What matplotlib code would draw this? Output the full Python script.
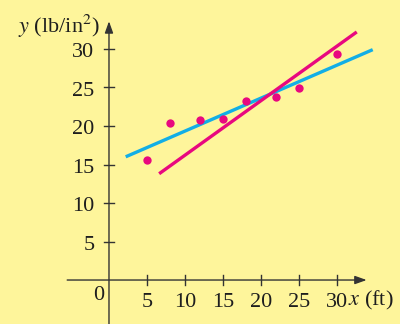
import matplotlib.pyplot as plt

plt.rcParams['font.family'] = ['Liberation Serif', 'DejaVu Serif']
plt.rcParams['mathtext.fontset'] = 'stix'

# data
x_pts = [5, 8, 12, 15, 18, 22, 25, 30]
y_pts = [15.6, 20.4, 20.8, 20.9, 23.2, 23.8, 24.9, 29.3]

# two fitted lines: (x start, x end), slope, intercept
cyan_x = [2.2, 34.7]
cyan_slope, cyan_icpt = 0.428, 15.06
mag_x = [6.6, 32.6]
mag_slope, mag_icpt = 0.708, 9.13

xticks = [5, 10, 15, 20, 25, 30]
yticks = [5, 10, 15, 20, 25, 30]

bg = '#fef59b'
cyan = '#12aee6'
magenta = '#e8087f'
axcol = '#333333'
txtcol = '#1e1e1e'

fig = plt.figure(figsize=(4.0, 3.24), dpi=100, facecolor=bg)
ax = fig.add_axes([0, 0, 1, 1])
ax.set_facecolor(bg)
ax.set_xlim(-14.34, 38.29)
ax.set_ylim(-5.71, 36.36)
ax.axis('off')

# axes with arrows
ax.annotate('', xy=(33.9, 0), xytext=(-5.5, 0),
            arrowprops=dict(arrowstyle='-|>,head_length=0.7,head_width=0.25',
                            color=axcol, lw=1.0, shrinkA=0, shrinkB=0))
ax.annotate('', xy=(0, 33.6), xytext=(0, -5.8),
            arrowprops=dict(arrowstyle='-|>,head_length=0.7,head_width=0.25',
                            color=axcol, lw=1.0, shrinkA=0, shrinkB=0))

for t in xticks:
    ax.plot([t, t], [-0.65, 0.65], color=axcol, lw=1.0)
    ax.text(t, -3.5, str(t), ha='center', va='baseline', fontsize=16, color=txtcol)
for t in yticks:
    ax.plot([-0.66, 0.66], [t, t], color=axcol, lw=1.0)
    ax.text(-1.9, t - 1.1, str(t), ha='right', va='baseline', fontsize=16, color=txtcol)
ax.text(-1.3, -2.6, '0', ha='center', va='baseline', fontsize=16, color=txtcol)

ax.text(31.4, -3.25, r'$x$ (ft)', ha='left', va='baseline', fontsize=16, color=txtcol)
ax.text(-1.2, 32.1, r'$y$ (lb/in$^2$)', ha='right', va='baseline', fontsize=16, color=txtcol)

# fitted lines
ax.plot(cyan_x, [cyan_slope * v + cyan_icpt for v in cyan_x], color=cyan, lw=2.4,
        solid_capstyle='butt')
ax.plot(mag_x, [mag_slope * v + mag_icpt for v in mag_x], color=magenta, lw=2.4,
        solid_capstyle='butt')

# data points
ax.scatter(x_pts, y_pts, s=36, color=magenta, zorder=5, linewidths=0)

fig.savefig('out.png', dpi=100, facecolor=bg)
